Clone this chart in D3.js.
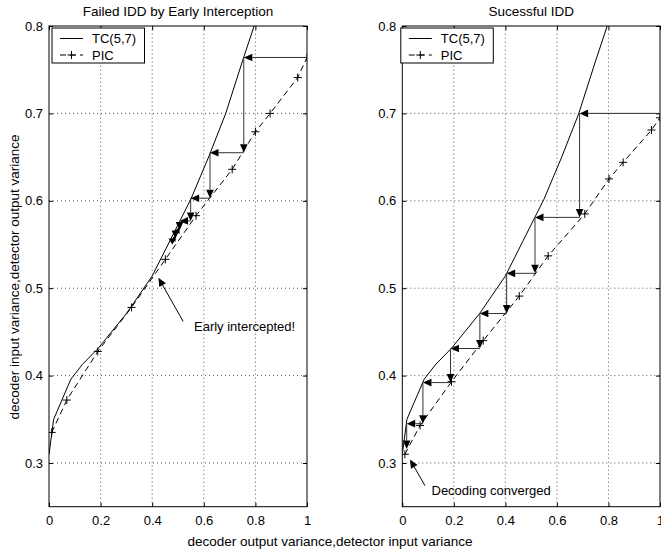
<!DOCTYPE html>
<html>
<head>
<meta charset="utf-8">
<script src="https://cdn.jsdelivr.net/npm/d3@7"></script>
<style>
  html, body { margin: 0; padding: 0; background: #fff; }
  svg { display: block; font-family: "Liberation Sans", Arial, sans-serif; }
</style>
</head>
<body>
<svg id="chart" width="661" height="555"></svg>
<script>
// Transfer characteristic of the (5,7) decoder (shared by both panels)
const tcX = [0, 0.018, 0.085, 0.13, 0.19, 0.30, 0.40, 0.47, 0.55, 0.62, 0.685, 0.75, 0.795, 0.85];
const tcY = [0.31, 0.35, 0.396, 0.413, 0.431, 0.471, 0.514, 0.555, 0.602, 0.651, 0.70, 0.76, 0.80, 0.855];

// PIC detector characteristic, failed case
const picFailX = [0.0105, 0.069, 0.189, 0.32, 0.451, 0.57, 0.71, 0.80, 0.857, 0.964, 1.0];
const picFailY = [0.335, 0.372, 0.4276, 0.478, 0.533, 0.583, 0.636, 0.679, 0.70, 0.741, 0.764];

// PIC detector characteristic, successful case
const picOkX = [0.01, 0.069, 0.191, 0.314, 0.454, 0.566, 0.708, 0.802, 0.857, 0.967, 1.0];
const picOkY = [0.31, 0.343, 0.393, 0.44, 0.491, 0.537, 0.585, 0.625, 0.644, 0.681, 0.695];

// Iteration trajectories (corner points of the staircase)
const stairFailX = [1.0, 0.755, 0.624, 0.549, 0.506, 0.49, 0.478];
const stairFailY = [0.764, 0.655, 0.603, 0.577, 0.566, 0.557, 0.55];
const stairOkX = [1.0, 0.688, 0.515, 0.405, 0.301, 0.187, 0.080, 0.017];
const stairOkY = [0.700, 0.581, 0.517, 0.471, 0.431, 0.392, 0.345, 0.316];

// Axis ticks
const xTicks = [0, 0.2, 0.4, 0.6, 0.8, 1];
const yTicks = [0.3, 0.4, 0.5, 0.6, 0.7, 0.8];
const xTickLabels = ["0", "0.2", "0.4", "0.6", "0.8", "1"];
const yTickLabels = ["0.3", "0.4", "0.5", "0.6", "0.7", "0.8"];

const titles = ["Failed IDD by Early Interception", "Sucessful IDD"];
const legendLabels = ["TC(5,7)", "PIC"];
const xLabel = "decoder output variance,detector input variance";
const yLabel = "decoder input variance,detector output variance";

// Annotations: text plus arrow tail and tip in data units
const noteFail = { text: "Early intercepted!", tail: [0.52, 0.462], tip: [0.424, 0.512] };
const noteOk = { text: "Decoding converged", tail: [0.088, 0.274], tip: [0.03, 0.304] };

const svg = d3.select("#chart");
const plotTop = 26, plotBottom = 506.7;
const FS = 13, FS_BIG = 13.5;

const panels = [
  { left: 49, right: 307, picX: picFailX, picY: picFailY, sx: stairFailX, sy: stairFailY,
    title: titles[0], note: noteFail, noteText: [194, 330.5], legendDx: 3 },
  { left: 402.3, right: 660, picX: picOkX, picY: picOkY, sx: stairOkX, sy: stairOkY,
    title: titles[1], note: noteOk, noteText: [431.5, 494.5], legendDx: -1.5 }
];

function arrow(g, x1, y1, x2, y2, shaft) {
  const dx = x2 - x1, dy = y2 - y1;
  const len = Math.hypot(dx, dy);
  if (len < 0.5) return;
  const ux = dx / len, uy = dy / len;
  const hl = Math.min(8.5, len), hw = 3.8;
  const bx = x2 - ux * hl, by = y2 - uy * hl;
  g.append("line")
    .attr("x1", x1).attr("y1", y1).attr("x2", bx).attr("y2", by)
    .attr("stroke", shaft).attr("stroke-width", 1);
  g.append("path")
    .attr("d", `M${x2},${y2}L${bx - uy * hw},${by + ux * hw}L${bx + uy * hw},${by - ux * hw}Z`)
    .attr("fill", "#000");
}

panels.forEach((p, i) => {
  const x = d3.scaleLinear().domain([0, 1]).range([p.left, p.right]);
  const y = d3.scaleLinear().domain([0.25, 0.8]).range([plotBottom, plotTop]);
  const g = svg.append("g");
  const clipId = "clip" + i;
  svg.append("clipPath").attr("id", clipId)
    .append("rect").attr("x", p.left).attr("y", plotTop)
    .attr("width", p.right - p.left).attr("height", plotBottom - plotTop);

  // Dotted grid
  const grid = g.append("g").attr("stroke", "#555").attr("stroke-width", 1)
    .attr("stroke-dasharray", "1,3");
  xTicks.slice(1, -1).forEach(t => {
    grid.append("line").attr("x1", x(t)).attr("x2", x(t)).attr("y1", plotBottom).attr("y2", plotTop);
  });
  yTicks.slice(0, -1).forEach(t => {
    grid.append("line").attr("x1", p.left).attr("x2", p.right).attr("y1", y(t)).attr("y2", y(t));
  });

  // Axes with inward ticks on all four sides
  const axB = d3.axisBottom(x).tickValues(xTicks).tickSizeInner(-4).tickSizeOuter(0)
    .tickFormat((d, k) => xTickLabels[k]).tickPadding(9);
  const axT = d3.axisTop(x).tickValues(xTicks).tickSizeInner(-4).tickSizeOuter(0).tickFormat("");
  const axL = d3.axisLeft(y).tickValues(yTicks).tickSizeInner(-4).tickSizeOuter(0)
    .tickFormat((d, k) => yTickLabels[k]).tickPadding(6);
  const axR = d3.axisRight(y).tickValues(yTicks).tickSizeInner(-4).tickSizeOuter(0).tickFormat("");
  const axes = [
    g.append("g").attr("transform", `translate(0,${plotBottom})`).call(axB),
    g.append("g").attr("transform", `translate(0,${plotTop})`).call(axT),
    g.append("g").attr("transform", `translate(${p.left},0)`).call(axL),
    g.append("g").attr("transform", `translate(${p.right},0)`).call(axR)
  ];
  axes.forEach(a => {
    a.select(".domain").remove();
    a.selectAll("line").attr("stroke", "#000");
    a.selectAll("text").attr("font-size", FS).attr("fill", "#000")
      .attr("font-family", "Liberation Sans, Arial, sans-serif");
  });
  g.append("rect").attr("x", p.left).attr("y", plotTop)
    .attr("width", p.right - p.left).attr("height", plotBottom - plotTop)
    .attr("fill", "none").attr("stroke", "#000").attr("stroke-width", 1);

  const plot = g.append("g").attr("clip-path", `url(#${clipId})`);

  // TC(5,7) curve
  const tc = tcX.map((v, k) => [v, tcY[k]]);
  const line = d3.line().x(d => x(d[0])).y(d => y(d[1]));
  plot.append("path").attr("d", line(tc)).attr("fill", "none")
    .attr("stroke", "#000").attr("stroke-width", 1);

  // PIC curve with + markers
  const pic = p.picX.map((v, k) => [v, p.picY[k]]);
  plot.append("path").attr("d", line(pic)).attr("fill", "none")
    .attr("stroke", "#000").attr("stroke-width", 1).attr("stroke-dasharray", "6,4");
  pic.forEach(d => {
    const cx = x(d[0]), cy = y(d[1]);
    plot.append("path").attr("d", `M${cx - 4},${cy}H${cx + 4}M${cx},${cy - 4}V${cy + 4}`)
      .attr("stroke", "#000").attr("stroke-width", 1);
  });

  // Iteration staircase
  const st = g.append("g");
  for (let k = 0; k < p.sx.length - 1; k++) {
    arrow(st, x(p.sx[k]), y(p.sy[k]), x(p.sx[k + 1]), y(p.sy[k]), "#333");
    if (k + 1 < p.sy.length)
      arrow(st, x(p.sx[k + 1]), y(p.sy[k]), x(p.sx[k + 1]), y(p.sy[k + 1]), "#333");
  }

  // Annotation
  arrow(g, x(p.note.tail[0]), y(p.note.tail[1]), x(p.note.tip[0]), y(p.note.tip[1]), "#000");
  g.append("text").attr("x", p.noteText[0]).attr("y", p.noteText[1])
    .attr("font-size", FS).text(p.note.text);

  // Title
  g.append("text").attr("x", (p.left + p.right) / 2).attr("y", 15.5)
    .attr("text-anchor", "middle").attr("font-size", FS_BIG).text(p.title);

  // Legend
  const lx = p.left + p.legendDx, ly = 28;
  const lg = g.append("g");
  lg.append("rect").attr("x", lx).attr("y", ly).attr("width", 92.5).attr("height", 35)
    .attr("fill", "#fff").attr("stroke", "#000").attr("stroke-width", 1);
  lg.append("line").attr("x1", lx + 8).attr("x2", lx + 31).attr("y1", ly + 10.5).attr("y2", ly + 10.5)
    .attr("stroke", "#000");
  lg.append("line").attr("x1", lx + 8).attr("x2", lx + 31).attr("y1", ly + 27).attr("y2", ly + 27)
    .attr("stroke", "#000").attr("stroke-dasharray", "6,4");
  const mx = lx + 19.5, my = ly + 27;
  lg.append("path").attr("d", `M${mx - 4},${my}H${mx + 4}M${mx},${my - 4}V${my + 4}`)
    .attr("stroke", "#000");
  lg.append("text").attr("x", lx + 40).attr("y", ly + 15).attr("font-size", FS).text(legendLabels[0]);
  lg.append("text").attr("x", lx + 40).attr("y", ly + 31.5).attr("font-size", FS).text(legendLabels[1]);
});

// Shared axis labels
svg.append("text").attr("x", 330).attr("y", 546).attr("text-anchor", "middle")
  .attr("font-size", FS_BIG).text(xLabel);
svg.append("text").attr("transform", "translate(19,277) rotate(-90)")
  .attr("text-anchor", "middle").attr("font-size", FS_BIG).text(yLabel);
</script>
</body>
</html>
